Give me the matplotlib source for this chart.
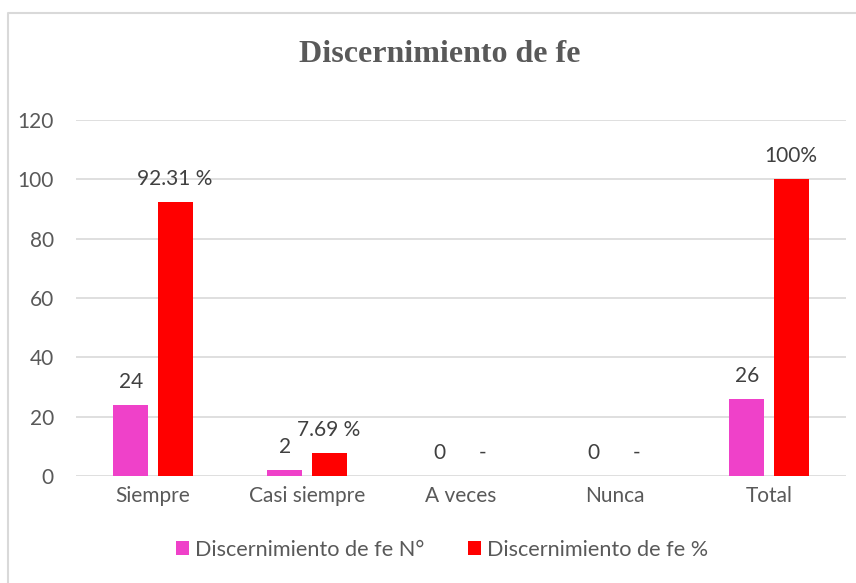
import matplotlib.pyplot as plt
import numpy as np
from matplotlib.lines import Line2D

# datos del gráfico
categorias = ['Siempre', 'Casi siempre', 'A veces', 'Nunca', 'Total']
valores_n = [24, 2, 0, 0, 26]
valores_pct = [92.31, 7.69, 0, 0, 100]
etiquetas_n = ['24', '2', '0', '0', '26']
etiquetas_pct = ['92.31 %', '7.69 %', '-', '-', '100%']
nombres_series = ['Discernimiento de fe N°', 'Discernimiento de fe %']

gris_texto = '#595959'
color_n = '#EF41C9'
color_pct = '#FF0000'
tam = 15

plt.rcParams['font.family'] = ['Lato', 'DejaVu Sans']

fig = plt.figure(figsize=(8.56, 5.83), dpi=100)
ax = fig.add_axes([76 / 856, 1 - 476 / 583, 770 / 856, 356 / 583])

# marco exterior (solo se ve arriba y a la izquierda)
fig.lines.append(Line2D([8 / 856, 8 / 856, 1], [0, 1 - 13 / 583, 1 - 13 / 583],
                        transform=fig.transFigure, color='#D9D9D9', linewidth=1.5))

x = np.arange(len(categorias))
ancho = 0.227
desp = 0.143

barras_n = ax.bar(x - desp, valores_n, ancho, color=color_n, label=nombres_series[0], zorder=2)
barras_pct = ax.bar(x + desp, valores_pct, ancho, color=color_pct, label=nombres_series[1], zorder=2)

# etiquetas de datos
for xi, v, t in zip(x - desp, valores_n, etiquetas_n):
    ax.annotate(t, (xi, v), xytext=(0, 16.5), textcoords='offset points',
                ha='center', va='center', fontsize=tam, color='#404040')
for xi, v, t in zip(x + desp, valores_pct, etiquetas_pct):
    ax.annotate(t, (xi, v), xytext=(0, 16.5), textcoords='offset points',
                ha='center', va='center', fontsize=tam, color='#404040')

ax.set_xlim(-0.5, len(categorias) - 0.5)
ax.set_ylim(0, 120)
ax.set_yticks(range(0, 121, 20))
ax.set_xticks(x)
ax.set_xticklabels(categorias)
ax.tick_params(axis='both', length=0, labelsize=tam, labelcolor=gris_texto)
ax.tick_params(axis='y', pad=16)
ax.tick_params(axis='x', pad=7)
ax.grid(axis='y', color='#D9D9D9', linewidth=1.2, zorder=0)
for s in ax.spines.values():
    s.set_visible(False)

fig.text(440 / 856, 1 - 55 / 583, 'Discernimiento de fe', ha='center', va='center',
         fontsize=23, fontweight='bold', family='Liberation Serif', color=gris_texto)

fig.legend(handles=[barras_n, barras_pct], loc='center', bbox_to_anchor=(442 / 856, 1 - 550 / 583),
           ncol=2, frameon=False, fontsize=15.6, handlelength=0.6, handleheight=0.6,
           handletextpad=0.3, columnspacing=2.0, labelcolor=gris_texto)

fig.savefig('out.png', dpi=100)
